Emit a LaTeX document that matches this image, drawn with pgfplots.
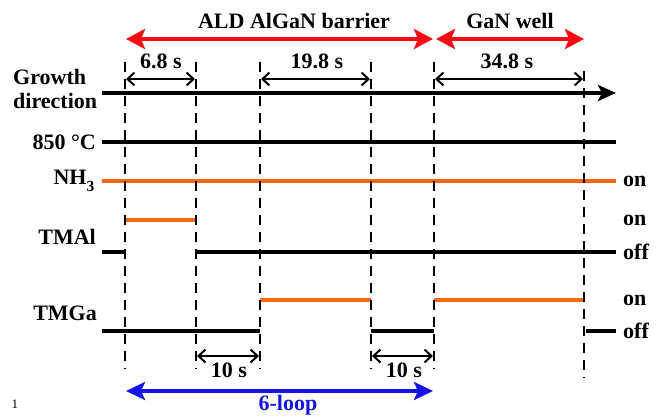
\documentclass[border=0pt]{standalone}
\usepackage{pgfplots}
\pgfplotsset{compat=1.18}
\usepackage{fontspec}
\setmainfont{Liberation Serif}
\newfontfamily\bigserif{Liberation Serif}[Scale=2.2]
\newcommand{\T}[1]{\bigserif\bfseries #1}
\usetikzlibrary{arrows.meta}
\definecolor{myorange}{RGB}{250,105,15}
\definecolor{myred}{RGB}{250,10,20}
\definecolor{myblue}{RGB}{20,20,235}
\tikzset{lbl/.style={inner sep=0pt}}
\begin{document}
\begin{tikzpicture}
\begin{axis}[width=663pt,height=415pt,scale only axis,
  xmin=0,xmax=663,ymin=0,ymax=415,y dir=reverse,
  hide axis,clip=false]
% invisible frame
\addplot[draw=none] coordinates {(0,0) (663,415)};
% red arrows
\addplot[myred,line width=4pt,{Stealth[length=19pt,width=20pt,inset=4pt]}-{Stealth[length=19pt,width=20pt,inset=4pt]}] coordinates {(126,39) (433,39)};
\addplot[myred,line width=4pt,{Stealth[length=19pt,width=20pt,inset=4pt]}-{Stealth[length=19pt,width=20pt,inset=4pt]}] coordinates {(436,39) (584,39)};
% blue arrow
\addplot[myblue,line width=4pt,{Stealth[length=19pt,width=18pt,inset=4pt]}-{Stealth[length=19pt,width=18pt,inset=4pt]}] coordinates {(126,391) (433,391)};
% timing double arrows
\addplot[black,line width=2pt,{Straight Barb[length=7pt,width=13pt]}-{Straight Barb[length=7pt,width=13pt]}] coordinates {(126,79) (195,79)};
\addplot[black,line width=2pt,{Straight Barb[length=7pt,width=13pt]}-{Straight Barb[length=7pt,width=13pt]}] coordinates {(261,79) (370,79)};
\addplot[black,line width=2pt,{Straight Barb[length=7pt,width=13pt]}-{Straight Barb[length=7pt,width=13pt]}] coordinates {(435,79) (583,79)};
\addplot[black,line width=2pt,{Straight Barb[length=7pt,width=13pt]}-{Straight Barb[length=7pt,width=13pt]}] coordinates {(197,356) (259,356)};
\addplot[black,line width=2pt,{Straight Barb[length=7pt,width=13pt]}-{Straight Barb[length=7pt,width=13pt]}] coordinates {(372,356) (433,356)};
% growth direction
\addplot[black,line width=4pt,-{Stealth[length=18pt,width=16pt,inset=4pt]}] coordinates {(102,93) (616,93)};
% 850 C
\addplot[black,line width=3.6pt] coordinates {(102,142) (616,142)};
% NH3
\addplot[myorange,line width=3.6pt] coordinates {(102,181) (616,181)};
% TMAl
\addplot[black,line width=3.6pt] coordinates {(102,252) (125,252)};
\addplot[myorange,line width=3.6pt] coordinates {(125,220) (196,220)};
\addplot[black,line width=3.6pt] coordinates {(196,252) (616,252)};
% TMGa
\addplot[black,line width=3.6pt] coordinates {(102,331) (260,331)};
\addplot[myorange,line width=3.6pt] coordinates {(260,300) (371,300)};
\addplot[black,line width=3.6pt] coordinates {(371,331) (434,331)};
\addplot[myorange,line width=3.6pt] coordinates {(434,300) (584,300)};
\addplot[black,line width=3.6pt] coordinates {(586,331) (616,331)};
% dashed verticals
\addplot[black,line width=2.8pt,dash pattern=on 10pt off 7pt] coordinates {(125,62) (125,369)};
\addplot[black,line width=2.8pt,dash pattern=on 10pt off 7pt] coordinates {(196,62) (196,369)};
\addplot[black,line width=2.8pt,dash pattern=on 10pt off 7pt] coordinates {(260,62) (260,369)};
\addplot[black,line width=2.8pt,dash pattern=on 10pt off 7pt] coordinates {(371,62) (371,369)};
\addplot[black,line width=2.8pt,dash pattern=on 10pt off 7pt] coordinates {(434,62) (434,369)};
\addplot[black,line width=2.8pt,dash pattern=on 10pt off 7pt] coordinates {(584,71) (584,378)};
% texts
\node[lbl] at (axis cs:294,21) {\T{ALD AlGaN barrier}};
\node[lbl] at (axis cs:510,21) {\T{GaN well}};
\node[lbl] at (axis cs:161,61) {\T{6.8 s}};
\node[lbl] at (axis cs:317,61) {\T{19.8 s}};
\node[lbl] at (axis cs:507,61) {\T{34.8 s}};
\node[lbl] at (axis cs:229,370) {\T{10 s}};
\node[lbl] at (axis cs:404,370) {\T{10 s}};
\node[lbl,text=myblue] at (axis cs:288,405) {\T{6-loop}};
\node[inner sep=0pt,font=\fontsize{13}{14}\selectfont] at (axis cs:15,404) {1};
\node[lbl,anchor=west] at (axis cs:13,77) {\T{Growth}};
\node[lbl,anchor=west] at (axis cs:13,101) {\T{direction}};
\node[lbl,anchor=east] at (axis cs:96,142) {\T{850 °C}};
\node[lbl,anchor=east] at (axis cs:95,181) {\T{NH\textsubscript{3}}};
\node[lbl,anchor=east] at (axis cs:96,237) {\T{TMAl}};
\node[lbl,anchor=east] at (axis cs:97,313) {\T{TMGa}};
\node[lbl,anchor=west] at (axis cs:623,181) {\T{on}};
\node[lbl,anchor=west] at (axis cs:623,220) {\T{on}};
\node[lbl,anchor=west] at (axis cs:623,252) {\T{off}};
\node[lbl,anchor=west] at (axis cs:623,300) {\T{on}};
\node[lbl,anchor=west] at (axis cs:623,331) {\T{off}};
\end{axis}
\end{tikzpicture}
\end{document}
